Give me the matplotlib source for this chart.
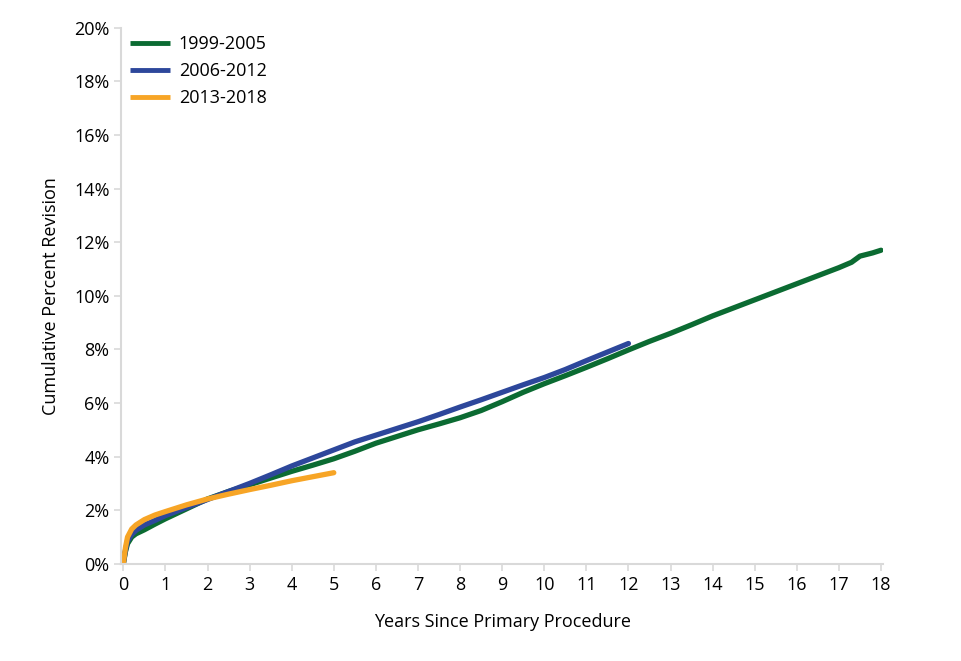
import matplotlib
matplotlib.use("Agg")
import matplotlib.pyplot as plt

plt.rcParams['font.family'] = ['Open Sans', 'DejaVu Sans']

# Series data (years, cumulative percent revision)
t_1999 = [0, 0.05, 0.1, 0.2, 0.3, 0.5, 0.75, 1, 1.5, 2, 2.5, 3, 3.5, 4, 4.5, 5, 5.5, 6, 6.5, 7, 7.5, 8, 8.5, 9, 9.5, 10, 10.5, 11, 11.5, 12, 12.5, 13, 13.5, 14, 14.5, 15, 15.5, 16, 16.5, 17, 17.3, 17.5, 17.8, 18]
v_1999 = [0, 0.45, 0.75, 1.0, 1.12, 1.27, 1.48, 1.68, 2.05, 2.42, 2.7, 2.95, 3.2, 3.45, 3.68, 3.92, 4.2, 4.5, 4.75, 5.0, 5.22, 5.45, 5.72, 6.05, 6.4, 6.72, 7.02, 7.33, 7.65, 7.98, 8.3, 8.6, 8.92, 9.25, 9.55, 9.85, 10.15, 10.45, 10.75, 11.05, 11.25, 11.48, 11.6, 11.7]

t_2006 = [0, 0.05, 0.1, 0.2, 0.3, 0.5, 0.75, 1, 1.5, 2, 2.5, 3, 3.5, 4, 4.5, 5, 5.5, 6, 6.5, 7, 7.5, 8, 8.5, 9, 9.5, 10, 10.5, 11, 11.5, 12]
v_2006 = [0, 0.5, 0.85, 1.1, 1.25, 1.45, 1.62, 1.8, 2.1, 2.4, 2.7, 3.0, 3.32, 3.65, 3.95, 4.25, 4.55, 4.8, 5.05, 5.3, 5.57, 5.85, 6.12, 6.4, 6.68, 6.95, 7.25, 7.58, 7.9, 8.22]

t_2013 = [0, 0.05, 0.1, 0.2, 0.3, 0.5, 0.75, 1, 1.5, 2, 2.5, 3, 3.5, 4, 4.5, 5]
v_2013 = [0, 0.6, 1.0, 1.3, 1.45, 1.65, 1.82, 1.95, 2.2, 2.42, 2.6, 2.77, 2.93, 3.1, 3.25, 3.4]

labels = ['1999-2005', '2006-2012', '2013-2018']
colors = ['#0b6b32', '#2d479b', '#f7a526']

x_ticks = list(range(0, 19))
y_ticks = list(range(0, 21, 2))

fig = plt.figure(figsize=(9.62, 6.61), dpi=100)
ax = fig.add_axes([0.126, 0.147, 0.792, 0.811])

for t, v, lab, c in zip([t_1999, t_2006, t_2013], [v_1999, v_2006, v_2013], labels, colors):
    ax.plot(t, v, color=c, lw=3.8, label=lab, solid_capstyle='round')

ax.set_xlim(-0.05, 18.05)
ax.set_ylim(0, 20)
ax.set_xticks(x_ticks)
ax.set_yticks(y_ticks)
ax.set_yticklabels([f'{y}%' for y in y_ticks])
for s in ['top', 'right']:
    ax.spines[s].set_visible(False)
for s in ['left', 'bottom']:
    ax.spines[s].set_color('#d9d9d9')
    ax.spines[s].set_linewidth(1.5)
ax.tick_params(axis='both', colors='#d9d9d9', length=5, width=1.2, labelsize=13, labelcolor='black')
ax.set_xlabel('Years Since Primary Procedure', fontsize=13, labelpad=14)
ax.set_ylabel('Cumulative Percent Revision', fontsize=13, labelpad=10)

leg = ax.legend(loc='upper left', frameon=False, fontsize=13, handlelength=2.2,
                handletextpad=0.5, labelspacing=0.5, borderaxespad=0.0,
                bbox_to_anchor=(0.002, 1.0))
for h in leg.get_lines():
    h.set_linewidth(3.5)
    h.set_solid_capstyle('butt')

fig.savefig('out.png', dpi=100)
